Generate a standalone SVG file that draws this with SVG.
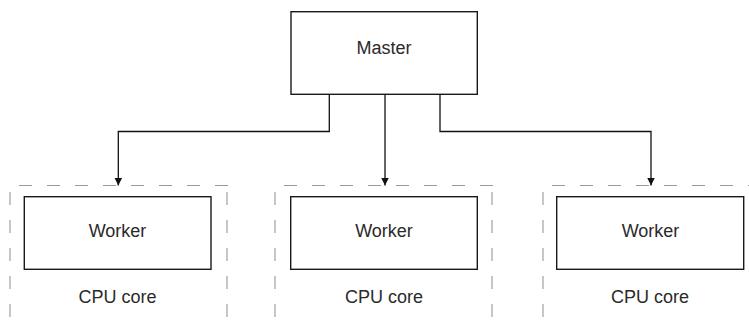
<svg xmlns="http://www.w3.org/2000/svg" width="749" height="324" viewBox="0 0 749 324">
<style>
.box{fill:#fff;stroke:#1a1a1a;stroke-width:1.4}
.core{fill:none;stroke:#999;stroke-width:1.1;stroke-dasharray:13 15}
.lbl{font-family:"Liberation Sans",Arial,sans-serif;font-size:18px;fill:#2a2a2a;text-anchor:middle}
.conn{fill:none;stroke:#111;stroke-width:1.3}
</style>
<defs>
<marker id="arr" markerWidth="8" markerHeight="10" refX="8" refY="4" orient="auto" markerUnits="userSpaceOnUse" viewBox="0 0 8 8">
<path d="M0,0 L8,4 L0,8 Z" fill="#111"/>
</marker>
</defs>
<g id="core1">
<path class="core" d="M19,185.5 H228 M10,192 V324 M227,192 V324"/>
<text class="lbl" x="117.5" y="303">CPU core</text>
</g>
<g id="core2">
<path class="core" d="M284,185.5 H493 M275,192 V324 M492,192 V324"/>
<text class="lbl" x="384" y="303">CPU core</text>
</g>
<g id="core3">
<path class="core" d="M552,185.5 H760 M543,192 V324"/>
<text class="lbl" x="650" y="303">CPU core</text>
</g>
<g id="master">
<rect class="box" x="291" y="11.7" width="186.3" height="82.6"/>
<text class="lbl" x="384" y="53.5">Master</text>
</g>
<g id="worker1">
<rect class="box" x="24.3" y="196.7" width="186.7" height="72.6"/>
<text class="lbl" x="117.5" y="236.5">Worker</text>
</g>
<g id="worker2">
<rect class="box" x="290.7" y="196.7" width="186.6" height="72.6"/>
<text class="lbl" x="384" y="236.5">Worker</text>
</g>
<g id="worker3">
<rect class="box" x="556.7" y="196.7" width="187" height="72.6"/>
<text class="lbl" x="650.5" y="236.5">Worker</text>
</g>
<g id="connectors">
<path class="conn" d="M329.3,94.3 V131.5 H118.3 V185.5" marker-end="url(#arr)"/>
<path class="conn" d="M385,94.3 V185.5" marker-end="url(#arr)"/>
<path class="conn" d="M440,94.3 V131.5 H651 V185.5" marker-end="url(#arr)"/>
</g>
</svg>
